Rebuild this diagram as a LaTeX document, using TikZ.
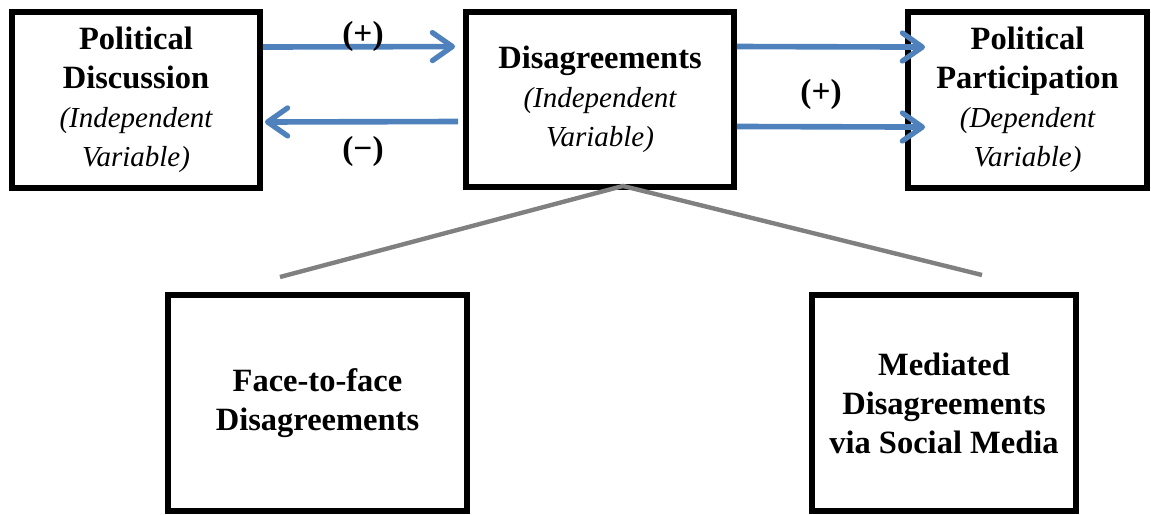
\documentclass[tikz,border=0pt]{standalone}
\usepackage{fontspec}
\setmainfont{Liberation Serif}
\usepackage{tikz}
\usetikzlibrary{arrows.meta,calc}
\definecolor{azulflecha}{HTML}{4F81BD}
\definecolor{grislinea}{HTML}{808080}
\newcommand{\tipovar}[1]{{\fontsize{16.5}{22.2}\selectfont\mdseries\itshape #1}}
\tikzset{
  caja/.style={draw=black,line width=3.4pt,fill=white,align=center,inner sep=2pt,font=\fontsize{18.5}{22.2}\selectfont\bfseries},
  flecha/.style={draw=azulflecha,line width=3.2pt,-{Straight Barb[length=4mm,width=5.6mm,line width=3pt,round]}},
  rama/.style={draw=grislinea,line width=2.5pt},
  signo/.style={font=\fontsize{19}{22}\selectfont\bfseries,inner sep=1pt},
}

\begin{document}
\begin{tikzpicture}[x=0.02cm,y=-0.02cm]
\useasboundingbox (0,0) rectangle (1151,514);
\coordinate (c1) at (136,100);
\coordinate (c2) at (600,99.5);
\coordinate (c3) at (1027.5,100);
\coordinate (c4) at (317.5,403);
\coordinate (c5) at (944,403);
% fila de arriba
\node[caja,minimum width=4.96cm,minimum height=3.52cm] (disc) at (c1) {Political\\Discussion\\\tipovar{(Independent}\\\tipovar{Variable)}};
\node[caja,minimum width=5.36cm,minimum height=3.5cm] (desac) at (c2) {Disagreements\\\tipovar{(Independent}\\\tipovar{Variable)}};
\node[caja,minimum width=4.78cm,minimum height=3.52cm] (partic) at (c3) {Political\\Participation\\\tipovar{(Dependent}\\\tipovar{Variable)}};
% fila de abajo
\node[caja,minimum width=5.98cm,minimum height=4.32cm] (cara) at (c4) {Face-to-face\\Disagreements};
\node[caja,minimum width=5.28cm,minimum height=4.32cm] (medio) at (c5) {Mediated\\Disagreements\\via Social Media};
% flechas
\draw[flecha,shorten >=0.16cm] ([yshift=1.06cm]disc.east) -- ([yshift=1.06cm]desac.west) node[signo,midway,yshift=2mm] {(+)};
\draw[flecha,shorten <=0.1cm,shorten >=0.04cm] ([yshift=-0.44cm]desac.west) -- ([yshift=-0.44cm]disc.east) node[signo,midway,yshift=-6mm] {(−)};
\draw[flecha,shorten >=-0.4cm] ([yshift=1.06cm]desac.east) -- ([yshift=1.06cm]partic.west);
\draw[flecha,shorten >=-0.4cm] ([yshift=-0.54cm]desac.east) -- ([yshift=-0.54cm]partic.west) node[signo,midway,yshift=6.4mm] {(+)};
% ramas
\coordinate (vertice) at ([xshift=0.46cm,yshift=0.08cm]desac.south);
\coordinate (finizq) at (280,277);
\coordinate (finder) at (982,275);
\draw[rama] (finizq) -- (vertice) -- (finder);
\end{tikzpicture}
\end{document}
